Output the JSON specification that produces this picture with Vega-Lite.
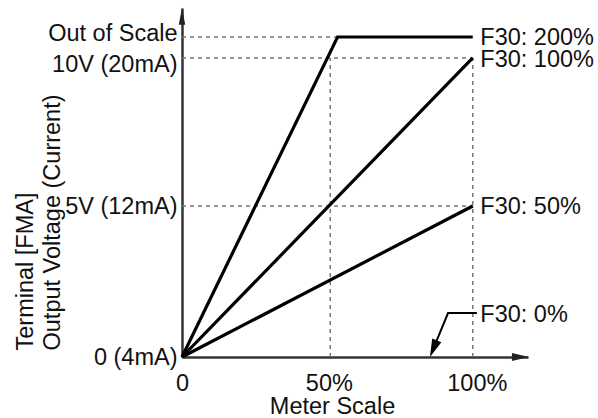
{
  "$schema": "https://vega.github.io/schema/vega-lite/v6.json",
  "autosize": {"type": "none"},
  "width": 346,
  "height": 349,
  "padding": {"left": 182, "top": 8, "right": 70, "bottom": 61},
  "background": "white",
  "config": {
    "view": {"stroke": null},
    "font": "Liberation Sans",
    "axis": {"grid": false, "ticks": false, "tickSize": 0, "domainColor": "#333333", "domainWidth": 2.5, "labelColor": "#111111", "titleColor": "#111111", "labelFont": "Liberation Sans", "titleFont": "Liberation Sans", "labelFontSize": 23.5, "titleFontSize": 23.5, "titleFontWeight": "normal", "labelOverlap": false, "labelFlush": false, "labelBound": false}
  },
  "datasets": {
    "guides": [
      {"x": 0, "x2": 53.5, "y": 10.7, "y2": 10.7},
      {"x": 0, "x2": 100, "y": 10, "y2": 10},
      {"x": 0, "x2": 100, "y": 5.05, "y2": 5.05},
      {"x": 51, "x2": 51, "y": 0, "y2": 10},
      {"x": 100, "x2": 100, "y": 0, "y2": 10}
    ],
    "lines": [
      {"series": "F30: 200%", "o": 0, "x": 0, "y": 0},
      {"series": "F30: 200%", "o": 1, "x": 53.5, "y": 10.7},
      {"series": "F30: 200%", "o": 2, "x": 100, "y": 10.7},
      {"series": "F30: 100%", "o": 0, "x": 0, "y": 0},
      {"series": "F30: 100%", "o": 1, "x": 100, "y": 10},
      {"series": "F30: 50%", "o": 0, "x": 0, "y": 0},
      {"series": "F30: 50%", "o": 1, "x": 100, "y": 5.05}
    ],
    "leader": [
      {"o": 0, "x": 101.4, "y": 1.47},
      {"o": 1, "x": 91.5, "y": 1.47},
      {"o": 2, "x": 86.45, "y": 0.28}
    ],
    "labels": [
      {"x": 102.6, "y": 10.67, "t": "F30: 200%"},
      {"x": 102.6, "y": 9.92, "t": "F30: 100%"},
      {"x": 102.6, "y": 5.0, "t": "F30: 50%"},
      {"x": 102.6, "y": 1.39, "t": "F30: 0%"}
    ]
  },
  "layer": [
    {
      "data": {"name": "guides"},
      "mark": {"type": "rule", "color": "#777777", "strokeWidth": 1.5, "strokeDash": [4, 4]},
      "encoding": {
        "x": {"field": "x", "type": "quantitative", "scale": {"domain": [0, 119], "nice": false, "zero": false},
          "axis": {"values": [0, 50.5, 101.4], "labelExpr": "datum.value == 0 ? '0' : datum.value < 60 ? '50%' : '100%'", "labelBaseline": "alphabetic", "labelPadding": 33, "labelAlign": "center",
            "title": "Meter Scale", "titleX": 150, "titleY": 56, "titleBaseline": "alphabetic", "titleAlign": "center", "titleAnchor": null}},
        "x2": {"field": "x2"},
        "y": {"field": "y", "type": "quantitative", "scale": {"domain": [0, 11.67], "nice": false, "zero": false},
          "axis": {"values": [0, 5.04, 9.79, 10.81], "labelExpr": "datum.value == 0 ? '0 (4mA)' : datum.value < 6 ? '5V (12mA)' : datum.value < 10.3 ? '10V (20mA)' : 'Out of Scale'", "labelPadding": 5, "labelBaseline": "middle",
            "title": ["Terminal [FMA]", "Output Voltage (Current)"], "titleAngle": -90, "titleAlign": "left", "titleBaseline": "top", "titleX": -169, "titleY": 342, "titleLineHeight": 27}},
        "y2": {"field": "y2"}
      }
    },
    {
      "data": {"name": "lines"},
      "mark": {"type": "line", "color": "black", "strokeWidth": 3.2, "strokeJoin": "miter"},
      "encoding": {
        "x": {"field": "x", "type": "quantitative"},
        "y": {"field": "y", "type": "quantitative"},
        "detail": {"field": "series"},
        "order": {"field": "o"}
      }
    },
    {
      "data": {"name": "leader"},
      "mark": {"type": "line", "color": "black", "strokeWidth": 2, "strokeJoin": "miter"},
      "encoding": {
        "x": {"field": "x", "type": "quantitative"},
        "y": {"field": "y", "type": "quantitative"},
        "order": {"field": "o"}
      }
    },
    {
      "data": {"values": [{"x": 86.45, "y": 0.28}]},
      "mark": {"type": "point", "filled": true, "opacity": 1, "color": "black", "shape": "M0,1L-0.55,-1L0.55,-1Z", "size": 324, "angle": 22.3, "strokeWidth": 0},
      "encoding": {
        "x": {"field": "x", "type": "quantitative"},
        "y": {"field": "y", "type": "quantitative"}
      }
    },
    {
      "data": {"values": [{"x": 0, "y": 11.39}]},
      "mark": {"type": "point", "filled": true, "opacity": 1, "color": "#222222", "shape": "M0,-1L0.38,1L-0.38,1Z", "size": 289, "strokeWidth": 0},
      "encoding": {
        "x": {"field": "x", "type": "quantitative"},
        "y": {"field": "y", "type": "quantitative"}
      }
    },
    {
      "data": {"values": [{"x": 116.4, "y": 0}]},
      "mark": {"type": "point", "filled": true, "opacity": 1, "color": "#222222", "shape": "M1,0L-1,-0.47L-1,0.47Z", "size": 289, "strokeWidth": 0},
      "encoding": {
        "x": {"field": "x", "type": "quantitative"},
        "y": {"field": "y", "type": "quantitative"}
      }
    },
    {
      "data": {"name": "labels"},
      "mark": {"type": "text", "align": "left", "baseline": "middle", "fontSize": 23.5, "font": "Liberation Sans", "color": "#111111"},
      "encoding": {
        "x": {"field": "x", "type": "quantitative"},
        "y": {"field": "y", "type": "quantitative"},
        "text": {"field": "t"}
      }
    }
  ]
}
